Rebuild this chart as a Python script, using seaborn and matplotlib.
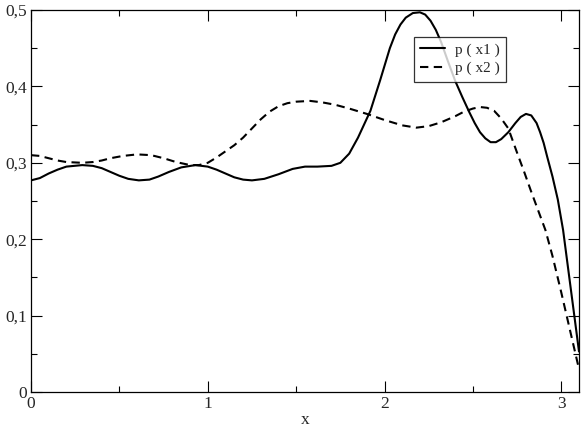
import matplotlib
matplotlib.use("Agg")
import matplotlib.pyplot as plt
import seaborn as sns
import pandas as pd
from matplotlib.ticker import FixedLocator, MultipleLocator

# ---- data ----
x1 = [0.00, 0.05, 0.10, 0.15, 0.20, 0.29, 0.35, 0.40, 0.45, 0.50, 0.55, 0.61,
      0.67, 0.72, 0.78, 0.85, 0.93, 1.00, 1.05, 1.10, 1.15, 1.20, 1.25, 1.32,
      1.40, 1.48, 1.55, 1.62, 1.70, 1.75, 1.80, 1.85, 1.92, 1.975, 2.03, 2.06,
      2.09, 2.12, 2.16, 2.20, 2.23, 2.26, 2.29, 2.32, 2.36, 2.40, 2.44, 2.48,
      2.51, 2.54, 2.57, 2.60, 2.63, 2.66, 2.70, 2.74, 2.77, 2.80, 2.83, 2.86,
      2.88, 2.90, 2.92, 2.95, 2.98, 3.01, 3.04, 3.07, 3.10]
p_x1 = [0.277, 0.280, 0.286, 0.291, 0.295, 0.297, 0.296, 0.293, 0.288, 0.283,
        0.279, 0.277, 0.278, 0.282, 0.288, 0.294, 0.297, 0.295, 0.291, 0.286,
        0.281, 0.278, 0.277, 0.279, 0.285, 0.292, 0.295, 0.295, 0.296, 0.300,
        0.312, 0.333, 0.368, 0.408, 0.450, 0.468, 0.481, 0.490, 0.496, 0.497,
        0.494, 0.486, 0.474, 0.458, 0.432, 0.407, 0.386, 0.366, 0.352, 0.340,
        0.332, 0.327, 0.327, 0.331, 0.340, 0.352, 0.360, 0.364, 0.362, 0.352,
        0.340, 0.326, 0.308, 0.282, 0.252, 0.212, 0.159, 0.106, 0.053]

x2 = [0.00, 0.05, 0.10, 0.15, 0.20, 0.29, 0.35, 0.40, 0.45, 0.52, 0.60, 0.68,
      0.75, 0.82, 0.90, 0.95, 1.00, 1.05, 1.10, 1.15, 1.20, 1.25, 1.30, 1.35,
      1.40, 1.45, 1.50, 1.58, 1.65, 1.72, 1.80, 1.90, 2.00, 2.10, 2.18, 2.25,
      2.32, 2.40, 2.45, 2.50, 2.54, 2.58, 2.62, 2.66, 2.70, 2.75, 2.79, 2.83,
      2.87, 2.91, 2.95, 3.00, 3.05, 3.10]
p_x2 = [0.310, 0.309, 0.306, 0.303, 0.301, 0.300, 0.301, 0.303, 0.306, 0.309,
        0.311, 0.310, 0.306, 0.301, 0.297, 0.297, 0.300, 0.307, 0.315, 0.323,
        0.333, 0.345, 0.357, 0.367, 0.374, 0.378, 0.380, 0.381, 0.379, 0.376,
        0.371, 0.364, 0.356, 0.349, 0.346, 0.348, 0.353, 0.361, 0.367, 0.371,
        0.373, 0.372, 0.368, 0.358, 0.345, 0.313, 0.288, 0.262, 0.237, 0.212,
        0.178, 0.130, 0.080, 0.030]

series_labels = ["p ( x1 )", "p ( x2 )"]
x_ticks = [0, 1, 2, 3]
x_tick_labels = ["0", "1", "2", "3"]
y_ticks = [0, 0.1, 0.2, 0.3, 0.4, 0.5]
y_tick_labels = ["0", "0,1", "0,2", "0,3", "0,4", "0,5"]
x_label = "x"

# ---- style ----
sns.set_style("ticks")
plt.rcParams["font.family"] = "serif"
plt.rcParams["font.serif"] = ["Liberation Serif", "DejaVu Serif"]

fig = plt.figure(figsize=(5.81, 4.28), dpi=100)
ax = fig.add_axes([31 / 581, 36 / 428, 548 / 581, 382 / 428])

df1 = pd.DataFrame({"x": x1, "p": p_x1})
df2 = pd.DataFrame({"x": x2, "p": p_x2})
sns.lineplot(data=df1, x="x", y="p", ax=ax, color="black", lw=1.5,
             label=series_labels[0], estimator=None, sort=False)
sns.lineplot(data=df2, x="x", y="p", ax=ax, color="black", lw=1.5,
             label=series_labels[1], estimator=None, sort=False,
             linestyle=(0, (4, 2.6)))

ax.set_xlim(0, 3.1)
ax.set_ylim(0, 0.5)
ax.xaxis.set_major_locator(FixedLocator(x_ticks))
ax.set_xticklabels(x_tick_labels)
ax.yaxis.set_major_locator(FixedLocator(y_ticks))
ax.set_yticklabels(y_tick_labels)
ax.xaxis.set_minor_locator(MultipleLocator(0.5))
ax.yaxis.set_minor_locator(MultipleLocator(0.05))

ax.tick_params(which="both", direction="in", top=True, right=True,
               color="black", width=0.8, labelsize=12.5, pad=3)
ax.tick_params(which="major", length=8)
ax.tick_params(which="minor", length=4)
for s in ax.spines.values():
    s.set_visible(True)
    s.set_linewidth(0.9)
    s.set_color("black")

ax.set_xlabel(x_label, fontsize=12.5, labelpad=0)
ax.set_ylabel("")

leg = ax.legend(loc="upper left", bbox_to_anchor=(383 / 548, 355 / 382),
                borderaxespad=0, fontsize=11, frameon=True, fancybox=False,
                edgecolor="black", handlelength=1.6, handletextpad=0.7,
                borderpad=0.4, labelspacing=0.3)
leg.get_frame().set_linewidth(0.9)

fig.savefig("out.png", dpi=100)
